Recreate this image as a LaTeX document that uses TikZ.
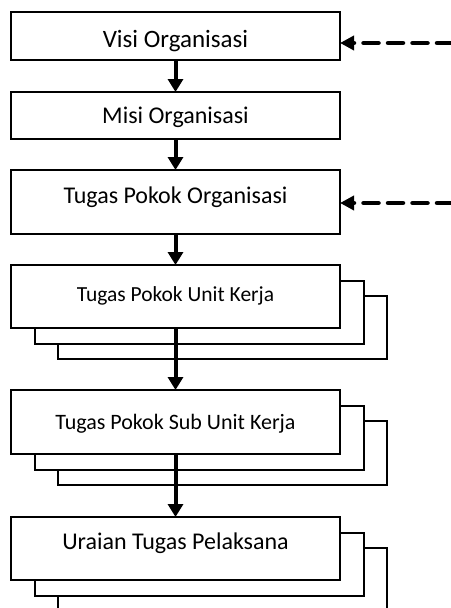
\documentclass[tikz,border=0pt]{standalone}
\usepackage{fontspec}
\setmainfont{Carlito}
\usetikzlibrary{arrows.meta,backgrounds}
\newcommand{\bigfnt}{\fontsize{24}{28}\selectfont}
\newcommand{\smallfnt}{\fontsize{21.5}{25}\selectfont}
\tikzset{
  box/.style={draw, line width=2pt, fill=white, minimum width=329pt, inner sep=0pt, outer sep=0pt, font=\bigfnt},
  sheet/.style={draw=black, line width=2pt, fill=white},
  tx/.style 2 args={text height=#1pt, text depth=#2pt},
  flow/.style={-{Triangle[width=15pt,length=13pt]}, line width=4pt},
  feed/.style={-{Triangle[width=14pt,length=14pt]}, line width=4.5pt, line cap=round, dash pattern=on 15pt off 9.5pt},
}
\begin{document}
\begin{tikzpicture}[x=1pt, y=-1pt]
  \useasboundingbox (0,0) rectangle (450,608);
  % main chain
  \node[box, minimum height=48pt, font=\fontsize{25}{29}\selectfont, tx={25}{2}] (visi) at (175.5,36) {Visi Organisasi};
  \node[box, minimum height=47pt, tx={17}{2}] (misi) at (175.5,115.5) {Misi Organisasi};
  \node[box, minimum height=64pt, tx={17}{14}] (tpo) at (175.5,202) {Tugas Pokok Organisasi};
  \node[box, minimum height=63pt, font=\smallfnt, tx={15}{4.5}] (tpu) at (175.5,296.5) {Tugas Pokok Unit Kerja};
  \node[box, minimum height=64pt, font=\fontsize{22}{26}\selectfont, tx={16}{0.5}] (tps) at (175.5,422) {Tugas Pokok Sub Unit Kerja};
  \node[box, minimum height=63pt, tx={17}{15}] (utp) at (175.5,548.5) {Uraian Tugas Pelaksana};
  % stacked copies behind
  \begin{scope}[on background layer]
    \foreach \n in {tpu,tps,utp}
      \foreach \k in {2,1}
        \draw[sheet] ([shift={(23.5*\k,15.5*\k)}]\n.north west) rectangle ([shift={(23.5*\k,15.5*\k)}]\n.south east);
  \end{scope}
  \draw[flow] (visi) -- (misi);
  \draw[flow] (misi) -- (tpo);
  \draw[flow] (tpo) -- (tpu);
  \draw[flow] (tpu) -- (tps);
  \draw[flow] (tps) -- (utp);
  % inputs from outside
  \coordinate (in1) at (452,43);
  \coordinate (in2) at (452,203);
  \draw[feed] (in1) -- (visi.east |- in1);
  \draw[feed] (in2) -- (tpo.east |- in2);
\end{tikzpicture}
\end{document}
